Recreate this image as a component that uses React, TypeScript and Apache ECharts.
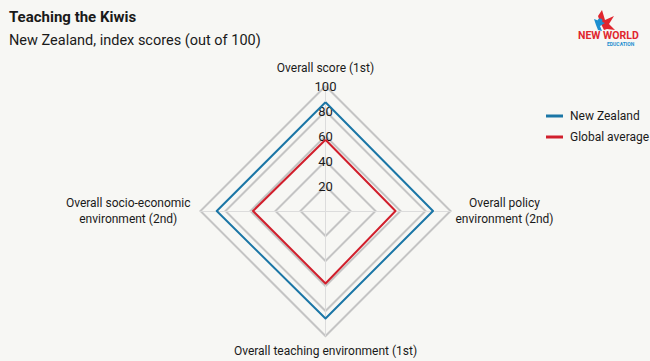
import React, { useEffect, useRef } from "react";
import * as echarts from "echarts";

const indicators = [
  "Overall score (1st)",
  "Overall socio-economic\nenvironment (2nd)",
  "Overall teaching environment (1st)",
  "Overall policy\nenvironment (2nd)",
];
const seriesNames = ["New Zealand", "Global average"];
const newZealand = [87, 87, 86, 86];
const globalAverage = [57, 58, 58, 56];
const tickValues = [20, 40, 60, 80, 100];

const FONT = "Roboto, 'Noto Sans', sans-serif";
const BLUE = "#1b76a6";
const RED = "#d11f2c";
const BG = "#f7f7f4";

export default function App() {
  const ref = useRef<HTMLDivElement>(null);
  useEffect(() => {
    if (!ref.current) return;
    const chart = echarts.init(ref.current, null, { renderer: "svg" });
    const nameGaps = [10, 10, 7, 5];
    chart.setOption({
      animation: false,
      backgroundColor: BG,
      textStyle: { fontFamily: FONT },
      title: [
        {
          text: "Teaching the Kiwis",
          left: 4,
          top: 4,
          textStyle: { fontFamily: FONT, fontSize: 15, fontWeight: "bold", color: "#1a1a1a" },
        },
        {
          text: "New Zealand, index scores (out of 100)",
          left: 4,
          top: 28,
          textStyle: { fontFamily: FONT, fontSize: 14.5, fontWeight: "normal", color: "#1a1a1a" },
        },
      ],
      legend: {
        orient: "vertical",
        left: 541,
        top: 105,
        itemWidth: 17,
        itemHeight: 3,
        itemGap: 9,
        icon: "rect",
        selectedMode: false,
        data: seriesNames,
        textStyle: { fontFamily: FONT, fontSize: 12, color: "#1a1a1a", padding: [0, 0, 0, 2] },
      },
      radar: {
        center: [325.5, 211],
        radius: 125,
        shape: "polygon",
        startAngle: 90,
        splitNumber: tickValues.length,
        indicator: indicators.map((name, i) => {
          const o: any = {
            name,
            min: 0,
            max: tickValues[tickValues.length - 1],
            nameGap: nameGaps[i],
          };
          if (i !== 0) o.axisLabel = { show: false };
          return o;
        }),
        axisName: {
          color: "#1a1a1a",
          fontFamily: FONT,
          fontSize: 12,
          formatter: (name: string) =>
            name
              .split("\n")
              .map((l) => `{c|${l}}`)
              .join("\n"),
          rich: {
            c: { align: "center", fontFamily: FONT, fontSize: 12, color: "#1a1a1a", lineHeight: 16 },
          },
        },
        axisLabel: {
          show: true,
          margin: 0,
          align: "center",
          verticalAlign: "middle",
          fontFamily: FONT,
          fontSize: 13,
          color: "#1a1a1a",
          showMinLabel: false,
          formatter: (v: number) => (v === 0 ? "" : String(v)),
        },
        axisLine: { show: true, lineStyle: { color: "#dcdcdc", width: 1 } },
        axisTick: { show: false },
        splitLine: { lineStyle: { color: "#c4c4c4", width: 2 } },
        splitArea: { show: false },
      },
      series: [
        {
          type: "radar",
          symbol: "none",
          data: [
            { name: seriesNames[0], value: newZealand, lineStyle: { color: BLUE, width: 2 }, itemStyle: { color: BLUE } },
            { name: seriesNames[1], value: globalAverage, lineStyle: { color: RED, width: 2 }, itemStyle: { color: RED } },
          ],
        },
      ],
      graphic: [
        {
          type: "group",
          left: 578,
          top: 10,
          children: [
            {
              type: "polygon",
              shape: { points: [[24, 2], [27, 12], [36, 8], [31, 16], [37, 22], [29, 21], [26, 22], [22, 14], [20, 8]] },
              style: { fill: "#e0262e" },
            },
            { type: "circle", shape: { cx: 22, cy: 13, r: 2.5 }, style: { fill: "#1d8fd0" } },
            {
              type: "polygon",
              shape: { points: [[16, 11], [27, 15], [22, 18], [24, 23], [20, 22], [18, 17]] },
              style: { fill: "#1d8fd0" },
            },
            {
              type: "text",
              x: 0,
              y: 22,
              style: {
                text: "NEW WORLD",
                font: "bold 10.5px Roboto, sans-serif",
                lineHeight: 10,
                fill: "#e0262e",
              },
            },
            {
              type: "text",
              x: 29,
              y: 33,
              style: {
                text: "EDUCATION",
                font: "bold 5px Roboto, sans-serif",
                lineHeight: 5,
                fill: "#1d8fd0",
              },
            },
          ],
        },
      ],
    });
    return () => chart.dispose();
  }, []);
  return (
    <div
      ref={ref}
      style={{ position: "fixed", left: 0, top: 0, width: 650, height: 361 }}
    />
  );
}
